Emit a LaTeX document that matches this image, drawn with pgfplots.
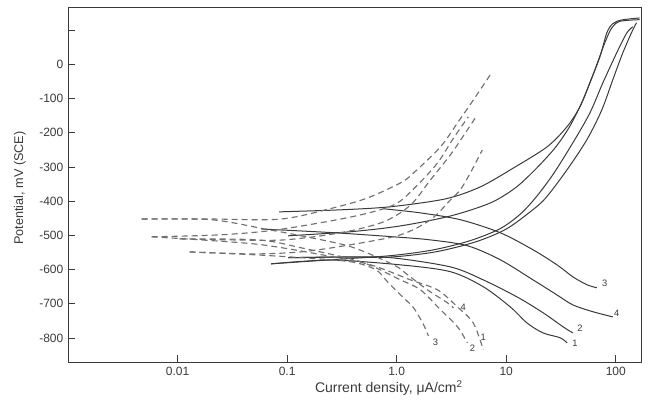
\documentclass[border=0pt]{standalone}
\usepackage{fontspec}
\setmainfont{Liberation Sans}
\usepackage{pgfplots}
\pgfplotsset{compat=1.18}
\definecolor{ink}{HTML}{3A3A3A}
\definecolor{dgray}{HTML}{707070}
\tikzset{
 sol/.style={draw=ink,line width=0.75pt,smooth,tension=0.5},
 dsh/.style={draw=dgray,line width=0.85pt,dash pattern=on 4.5pt off 3pt,smooth,tension=0.5},
 lab/.style={font=\fontsize{7}{8}\selectfont,text=ink,inner sep=0pt}
}
\begin{document}
\begin{tikzpicture}
\begin{axis}[
 xmode=log, scale only axis,
 width=429.75pt, height=266.25pt,
 xmin=0.001, xmax=170, ymin=-870, ymax=168,
 xtick={0.01,0.1,1,10,100},
 xticklabels={\mbox{0.01},\mbox{0.1},\mbox{1.0},\mbox{10},\mbox{100}},
 xminorticks=false,
 ytick={-800,-700,-600,-500,-400,-300,-200,-100,0,100},
 yticklabels={\mbox{-800},\mbox{-700},\mbox{-600},\mbox{-500},\mbox{-400},\mbox{-300},\mbox{-200},\mbox{-100},\mbox{0},{}},
 xtick pos=left, ytick pos=left,
 tick align=inside, major tick length=5pt,
 every tick/.style={ink,line width=0.6pt},
 axis line style={ink,line width=0.7pt},
 ticklabel style={font=\fontsize{9}{10}\selectfont,text=ink},
 /pgf/number format/assume math mode=true,
 xlabel={Current density, μA/cm\textsuperscript{2}},
 ylabel={Potential, mV (SCE)},
 every axis x label/.style={at={(axis description cs:0.56,-0.073)},anchor=center,font=\fontsize{10.5}{12}\selectfont,text=ink},
 every axis y label/.style={at={(axis description cs:-0.084,0.49)},rotate=90,anchor=center,font=\fontsize{9.5}{11}\selectfont,text=ink},
]
% solid curves, anodic branches
\addplot[sol] coordinates {(0.0846,-431)(0.310,-425)(0.882,-416)(2.79,-393)(5.80,-358)(11.6,-303)(23.6,-241)(35.9,-182)(47.1,-124)(58.0,-54)(71.6,22)(82.8,92)(93.9,119)(113,130)(165,136)};
\addplot[sol] coordinates {(0.102,-501)(0.382,-489)(1.087,-472)(3.10,-443)(7.16,-405)(12.1,-361)(18.3,-308)(27.9,-244)(38.2,-180)(50.1,-104)(64.4,-16)(79.4,63)(92.0,107)(109,126)(165,131)};
\addplot[sol] coordinates {(0.0716,-583)(0.251,-571)(0.882,-559)(2.17,-542)(4.71,-515)(8.82,-480)(13.4,-438)(18.5,-390)(26.7,-322)(40.6,-229)(58.0,-142)(76.2,-54)(102,34)(126,92)(143,110)};
\addplot[sol] coordinates {(0.102,-565)(0.310,-563)(0.882,-563)(2.26,-548)(5.23,-519)(9.79,-483)(15.8,-436)(22.7,-392)(35.9,-308)(54.5,-220)(74.6,-133)(93.9,-45)(116,34)(143,101)(155,122)};
% solid curves, cathodic branches
\addplot[sol] coordinates {(0.762,-422)(1.65,-434)(3.82,-454)(8.82,-492)(17.6,-542)(29.1,-586)(40.6,-621)(54.5,-644)(67.2,-653)};
\addplot[sol] coordinates {(0.058,-481)(0.267,-492)(0.939,-504)(2.04,-513)(4.42,-530)(8.82,-571)(17.6,-630)(29.1,-674)(40.6,-703)(61.8,-723)(93.9,-738)};
\addplot[sol] coordinates {(0.102,-565)(0.310,-563)(0.882,-565)(3.10,-592)(6.18,-630)(12.6,-680)(21.7,-726)(33.0,-767)(40.6,-785)};
\addplot[sol] coordinates {(0.0716,-583)(0.251,-572)(1.087,-586)(3.10,-606)(6.18,-650)(10.9,-709)(15.5,-756)(21.7,-785)(31.0,-799)(35.9,-814)};
% dashed curves, anodic branches
\addplot[dsh] coordinates {(0.00471,-452)(0.0204,-452)(0.0882,-452)(0.267,-419)(0.545,-390)(1.087,-346)(1.43,-317)(2.51,-241)(3.59,-171)(5.01,-104)(7.16,-30)};
\addplot[dsh] coordinates {(0.0058,-504)(0.0251,-498)(0.0828,-483)(0.382,-446)(0.939,-411)(1.49,-358)(2.36,-288)(3.23,-220)(3.82,-186)(4.51,-153)};
\addplot[dsh] coordinates {(0.01043,-510)(0.0310,-513)(0.0939,-513)(0.310,-492)(0.762,-460)(1.34,-411)(2.04,-337)(3.10,-264)(4.24,-200)(5.23,-156)};
\addplot[dsh] coordinates {(0.01286,-548)(0.0471,-554)(0.134,-548)(0.382,-527)(1.087,-498)(2.04,-454)(3.10,-396)(3.82,-366)(4.71,-317)(6.05,-250)};
% dashed curves, cathodic branches
\addplot[dsh] coordinates {(0.00471,-452)(0.0204,-454)(0.0672,-483)(0.134,-501)(0.382,-533)(0.939,-586)(1.259,-615)(1.91,-659)(2.91,-697)(3.30,-712)};
\addplot[dsh] coordinates {(0.0058,-504)(0.0165,-513)(0.0581,-527)(0.204,-556)(0.580,-586)(1.34,-630)(2.36,-659)(3.59,-709)(5.01,-756)(6.18,-834)};
\addplot[dsh] coordinates {(0.01043,-510)(0.0545,-513)(0.134,-536)(0.471,-577)(1.087,-630)(1.65,-659)(2.51,-717)(3.59,-767)(4.42,-814)};
\addplot[dsh] coordinates {(0.01286,-548)(0.0471,-556)(0.134,-565)(0.382,-577)(0.644,-600)(0.828,-636)(1.087,-674)(1.43,-712)(1.76,-761)(1.95,-794)};
% curve numbers
\node[lab] at (axis cs:79.4,-639) {3};
\node[lab] at (axis cs:102,-728) {4};
\node[lab] at (axis cs:47.1,-770) {2};
\node[lab] at (axis cs:42.5,-814) {1};
\node[lab] at (axis cs:2.26,-811) {3};
\node[lab] at (axis cs:4.91,-829) {2};
\node[lab] at (axis cs:6.18,-797) {1};
\node[lab] at (axis cs:4.06,-709) {4};
\end{axis}
\path ([xshift=-51pt,yshift=-33.75pt]current axis.south west) rectangle ([xshift=6pt,yshift=5.25pt]current axis.north east);
\end{tikzpicture}
\end{document}
